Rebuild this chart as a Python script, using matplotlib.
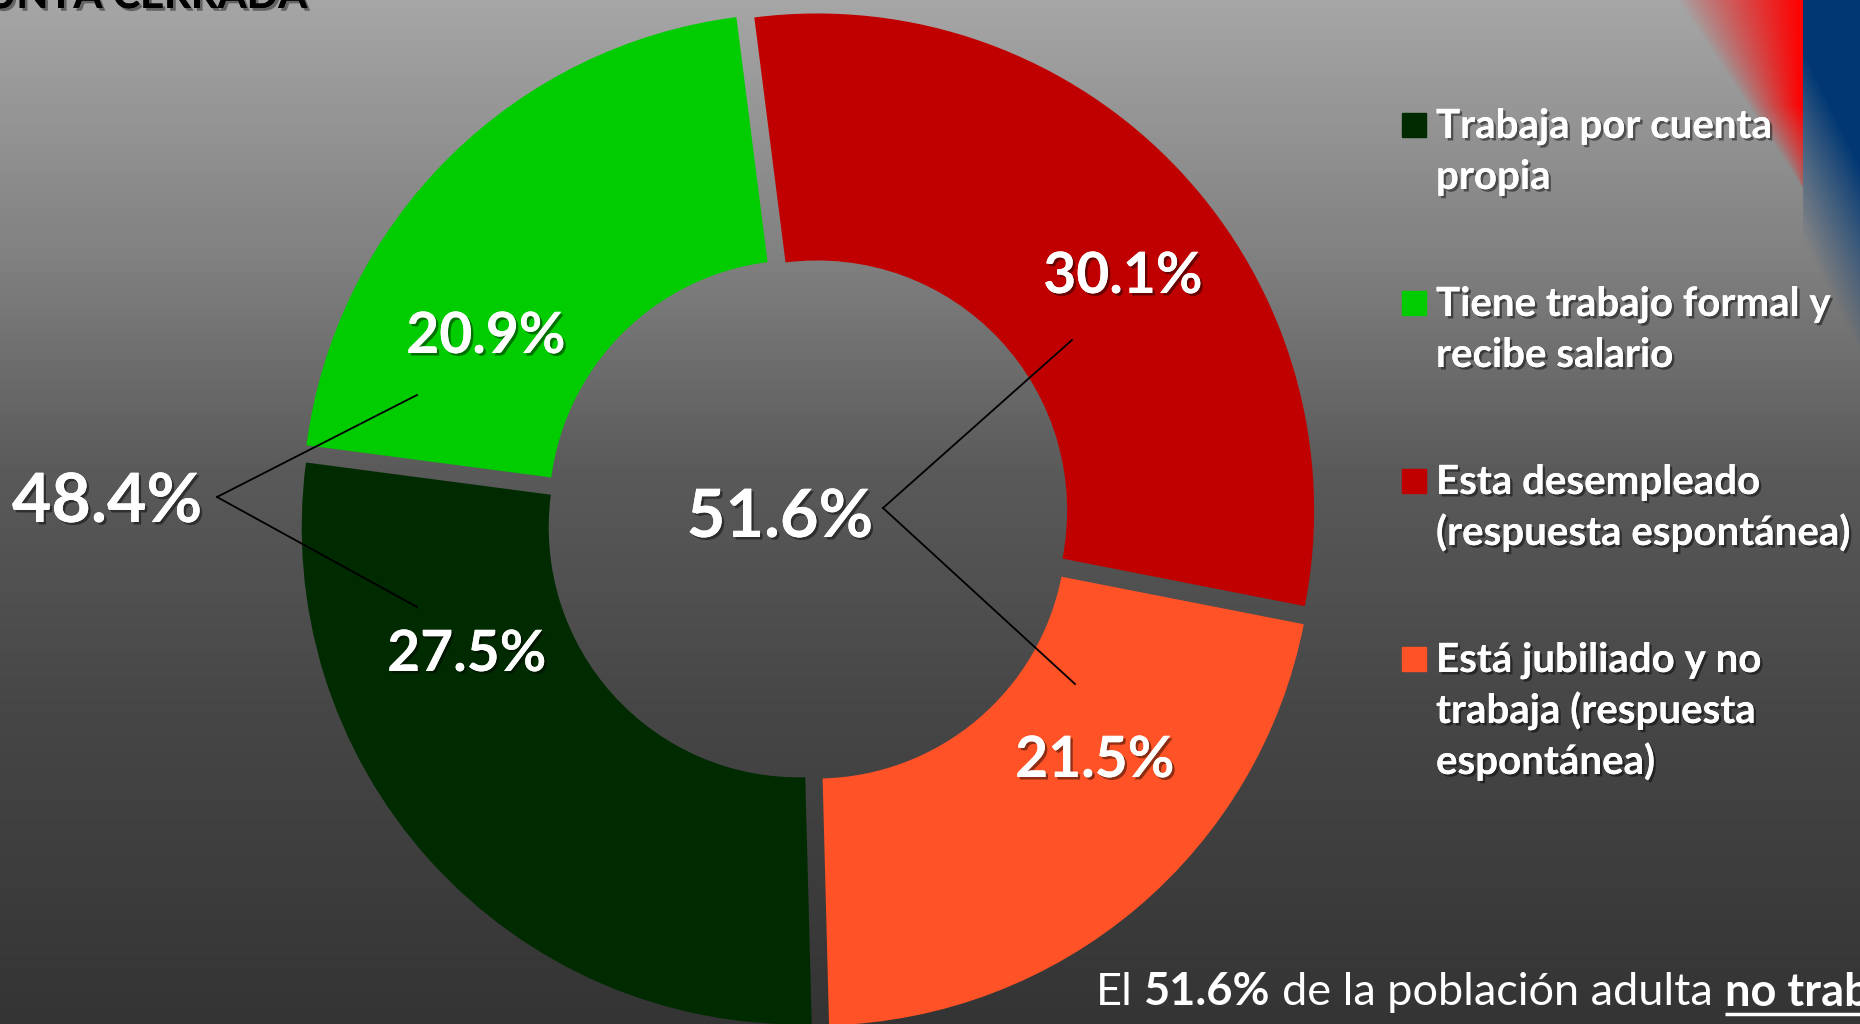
import numpy as np
import matplotlib
matplotlib.use("Agg")
import matplotlib.pyplot as plt
import matplotlib.patheffects as pe

# ---------------- data ----------------
categories = [
    "Trabaja por cuenta propia",
    "Tiene trabajo formal y recibe salario",
    "Esta desempleado (respuesta espontánea)",
    "Está jubiliado y no trabaja (respuesta espontánea)",
]
legend_lines = [
    ["Trabaja por cuenta", "propia"],
    ["Tiene trabajo formal y", "recibe salario"],
    ["Esta desempleado", "(respuesta espontánea)"],
    ["Está jubiliado y no", "trabaja (respuesta", "espontánea)"],
]
values = [27.5, 20.9, 30.1, 21.5]
colors = ["#002B00", "#00CC00", "#C00000", "#FF5226"]
group_work = 48.4      # trabaja (27.5 + 20.9)
group_nowork = 51.6    # no trabaja (30.1 + 21.5)
title_text = "PREGUNTA CERRADA"
bottom_pieces = [("El", "normal", False), ("51.6%", "bold", False),
                 ("de la población adulta", "normal", False), ("no trabaja", "bold", True)]

# ---------------- figure ----------------
W, H = 1860, 1024
fig = plt.figure(figsize=(W / 100, H / 100), dpi=100)
ax = fig.add_axes([0, 0, 1, 1])

# background gradient + corner decoration
yy = np.arange(H)
gray = np.interp(yy, [0, 260, 470, 700, 1024], [166, 128, 90, 71, 52]) / 255.0
rgb = np.dstack([np.repeat(gray[:, None], W, axis=1)] * 3)
X, Y = np.meshgrid(np.arange(W), np.arange(H))
xb = 1677 + Y * (123 / 185.0)
den = np.where(1800 - xb > 1, 1800 - xb, 1)
red_a = np.clip((X - xb) / den, 0, 1) ** 0.9
red_a *= np.clip((215 - Y) / 110.0, 0, 1)
red_a[X >= 1802] = 0
red = np.array([1.0, 0.0, 0.0])
rgb = rgb * (1 - red_a[..., None]) + red * red_a[..., None]
y0 = 50 + (X - 1802) * 2.0
blue_a = np.clip(1 - (Y - y0) / 190.0, 0, 1)
blue_a[X < 1802] = 0
blue = np.array([0, 55, 115]) / 255.0
rgb = rgb * (1 - blue_a[..., None]) + blue * blue_a[..., None]
ax.imshow(rgb, extent=(0, W, 0, H), origin="upper", zorder=0, interpolation="bilinear")

# donut
cx, cy = 808, H - 519
R, ring = 497, 247
ax.pie(values, colors=colors, startangle=271.5, counterclock=False,
       radius=R, center=(cx, cy), explode=[12.5] * len(values),
       wedgeprops=dict(width=ring, linewidth=0), frame=False)
ax.set_xlim(0, W)
ax.set_ylim(0, H)
ax.set_aspect("auto")
ax.axis("off")

shadow = [pe.withSimplePatchShadow(offset=(1.8, -1.8), shadow_rgbFace="black", alpha=0.45), pe.Normal()]
FONT = "Lato"

# slice labels (x center, baseline in pixel-from-top)
label_pos = [(467, 671), (486, 353), (1123, 293), (1095, 777)]
for v, (lx, ly) in zip(values, label_pos):
    ax.text(lx, H - ly, f"{v:.1f}%", ha="center", va="baseline", color="white",
            fontsize=41, fontweight="bold", family=FONT, path_effects=shadow, zorder=5)

# group labels
ax.text(107, H - 522, f"{group_work:.1f}%", ha="center", va="baseline", color="white",
        fontsize=49, fontweight="bold", family=FONT, path_effects=shadow, zorder=5)
ax.text(780, H - 537, f"{group_nowork:.1f}%", ha="center", va="baseline", color="white",
        fontsize=48, fontweight="bold", family=FONT, path_effects=shadow, zorder=5)

# leader lines
for (vx, vy), ends in [((217, 497), [(417, 395), (417, 607)]),
                       ((883, 508), [(1072, 340), (1075, 684)])]:
    for ex, ey in ends:
        ax.plot([vx, ex], [H - vy, H - ey], color="black", lw=1.3, zorder=6)

# legend
for i, (lines, col) in enumerate(zip(legend_lines, colors)):
    base = 138 + 178 * i
    ax.add_patch(plt.Rectangle((1402, H - (base - 1)), 24, 24, color=col, zorder=5))
    for j, ln in enumerate(lines):
        ax.text(1436, H - (base + 51 * j), ln, ha="left", va="baseline", color="white",
                fontsize=29, fontweight="bold", family=FONT, path_effects=shadow, zorder=5)

# top-left cut title
ax.text(307, H - 8, title_text, ha="right", va="baseline", color="black", fontsize=30,
        fontweight="bold", family=FONT,
        path_effects=[pe.withSimplePatchShadow(offset=(2, -2), shadow_rgbFace="black", alpha=0.4), pe.Normal()],
        zorder=5)

# bottom sentence
BFS = 32.5
fig.canvas.draw()
rend = fig.canvas.get_renderer()
def width_of(s, w):
    t = ax.text(0, 0, s, fontsize=BFS, fontweight=w, family=FONT)
    bb = t.get_window_extent(renderer=rend)
    t.remove()
    return bb.width
space_w = width_of("x x", "normal") - width_of("xx", "normal")
x = 1096
yb = H - 1005
for s, w, ul in bottom_pieces:
    t = ax.text(x, yb, s, ha="left", va="baseline", color="white", fontsize=BFS,
                fontweight=w, family=FONT, zorder=5)
    bb = t.get_window_extent(renderer=rend)
    if ul:
        ax.plot([x, bb.x1], [yb - 9, yb - 9], color="white", lw=2.5, zorder=5,
                solid_capstyle="butt")
    x = bb.x1 + space_w

fig.savefig("out.png", dpi=100)
